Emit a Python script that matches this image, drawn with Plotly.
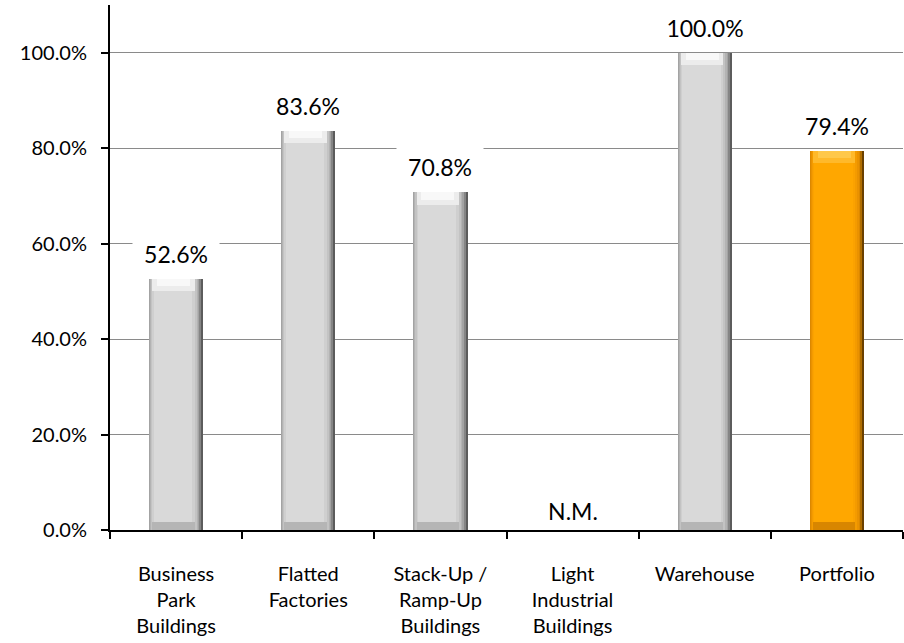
import plotly.graph_objects as go

# Occupancy by property segment
categories = [
    "Business<br>Park<br>Buildings",
    "Flatted<br>Factories",
    "Stack-Up /<br>Ramp-Up<br>Buildings",
    "Light<br>Industrial<br>Buildings",
    "Warehouse",
    "Portfolio",
]
occupancy = [0.526, 0.836, 0.708, None, 1.000, 0.794]
value_labels = ["52.6%", "83.6%", "70.8%", "N.M.", "100.0%", "79.4%"]
y_ticks = [0.0, 0.2, 0.4, 0.6, 0.8, 1.0]
y_tick_labels = ["0.0%", "20.0%", "40.0%", "60.0%", "80.0%", "100.0%"]

FONT = "Lato"

# Shading ramps for the bevelled columns (outer edge -> face)
grey_ramp = ["#5c5c5c", "#858585", "#a3a3a3", "#b3b3b3", "#c3c3c3", "#cfcfcf", "#d9d9d9"]
orange_ramp = ["#6a4000", "#b06e00", "#dc8800", "#ea9200", "#f49b00", "#fba200", "#ffa700"]
grey_top, grey_top2, grey_bottom = "#ececec", "#f8f8f8", "#b5b5b5"
orange_top, orange_top2, orange_bottom = "#ffb92a", "#ffc84a", "#d88600"

is_total = [False, False, False, False, False, True]

# (offset, width) of each nested layer, in category units
layer_geom = [
    (-0.205, 0.410),
    (-0.205, 0.395),
    (-0.205, 0.380),
    (-0.198, 0.365),
    (-0.190, 0.345),
    (-0.180, 0.320),
    (-0.170, 0.290),
]

fig = go.Figure()

for i, (off, w) in enumerate(layer_geom):
    colors = [orange_ramp[i] if t else grey_ramp[i] for t in is_total]
    fig.add_trace(go.Bar(
        x=categories, y=occupancy,
        marker=dict(color=colors, line=dict(width=0)),
        width=w, offset=off, hoverinfo="skip", showlegend=False,
    ))

# Top bevel (two bands, lighter toward the cap) and darker foot
bevel = 0.026
has_val = [v is not None for v in occupancy]
fig.add_trace(go.Bar(
    x=categories,
    y=[bevel if h else None for h in has_val],
    base=[v - bevel if v is not None else None for v in occupancy],
    marker=dict(color=[orange_top if t else grey_top for t in is_total], line=dict(width=0)),
    width=0.32, offset=-0.18, hoverinfo="skip", showlegend=False,
))
fig.add_trace(go.Bar(
    x=categories,
    y=[bevel * 0.6 if h else None for h in has_val],
    base=[v - bevel * 0.6 if v is not None else None for v in occupancy],
    marker=dict(color=[orange_top2 if t else grey_top2 for t in is_total], line=dict(width=0)),
    width=0.25, offset=-0.145, hoverinfo="skip", showlegend=False,
))
fig.add_trace(go.Bar(
    x=categories,
    y=[0.016 if h else None for h in has_val],
    base=[0 if h else None for h in has_val],
    marker=dict(color=[orange_bottom if t else grey_bottom for t in is_total], line=dict(width=0)),
    width=0.32, offset=-0.18, hoverinfo="skip", showlegend=False,
))

# Value labels above each bar, boxed in white so they sit over gridlines
for cat, v, lab in zip(categories, occupancy, value_labels):
    if v is not None:
        fig.add_annotation(
            x=cat, y=v, text=lab, showarrow=False,
            yanchor="bottom", yshift=5, width=86, height=38,
            font=dict(family=FONT, size=23, color="#000000"),
            bgcolor="#ffffff", borderpad=0,
        )
    else:
        fig.add_annotation(
            x=cat, y=0.0, text=lab, showarrow=False,
            yanchor="bottom", yshift=4, width=70, height=28,
            font=dict(family=FONT, size=23, color="#000000"),
            bgcolor="rgba(255,255,255,0)", borderpad=0,
        )

fig.update_layout(
    width=904, height=643,
    margin=dict(l=110, r=1, t=5, b=113),
    paper_bgcolor="#ffffff", plot_bgcolor="#ffffff",
    barmode="overlay", bargap=0,
    font=dict(family=FONT, size=20, color="#000000"),
)
fig.update_xaxes(
    type="category", tickson="boundaries",
    showline=True, linecolor="#000000", linewidth=2,
    ticks="outside", ticklen=7, tickcolor="#000000", tickwidth=2,
    ticklabelstandoff=25,
    tickfont=dict(family=FONT, size=20, color="#000000"),
    showgrid=False, zeroline=False,
)
fig.update_yaxes(
    range=[0, 1.1], tickvals=y_ticks, ticktext=y_tick_labels,
    showline=True, linecolor="#000000", linewidth=2,
    ticks="outside", ticklen=7, tickcolor="#000000", tickwidth=2,
    ticklabelstandoff=10,
    tickfont=dict(family=FONT, size=20, color="#000000"),
    showgrid=True, gridcolor="#8a8a8a", gridwidth=1, zeroline=False,
)

fig.write_html("out.html")
